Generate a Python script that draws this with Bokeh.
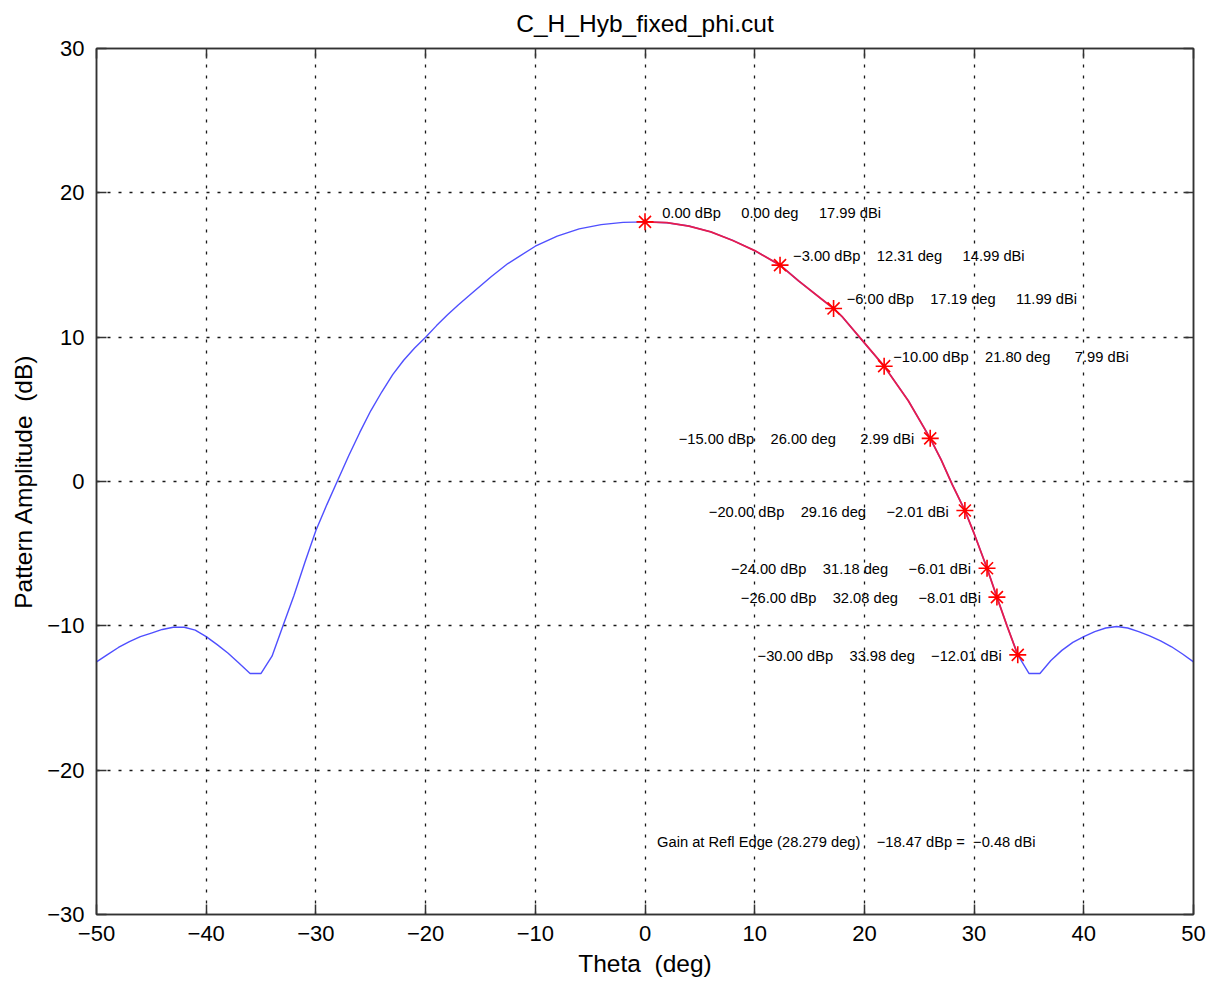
import numpy as np
from bokeh.plotting import figure
from bokeh.models import (ColumnDataSource, LinearAxis, SingleIntervalTicker,
                          CustomJSTickFormatter, Range1d)
from bokeh.core.properties import value
from bokeh.embed import file_html
from bokeh.resources import INLINE

# ---------------- data ----------------
title_text = "C_H_Hyb_fixed_phi.cut"
x_label = "Theta \u00a0(deg)"
y_label = "Pattern Amplitude \u00a0(dB)"

theta = [-50, -49, -48, -47, -46, -45, -44, -43, -42, -41, -40, -39, -38, -37,
         -36, -35, -34, -33, -32, -31, -30, -29, -28, -27, -26, -25, -24, -23,
         -22, -21, -20, -19, -18, -17, -16, -14, -12.5, -10, -8, -6, -4, -2,
         0, 2, 4, 6, 8, 10, 12.31, 14, 16, 17.19, 18, 20, 21.80, 24, 26.00, 27,
         28, 29.16, 30, 31.18, 32.08, 33, 33.98, 35, 36, 37, 38, 39, 40, 41, 42,
         43, 44, 45, 46, 47, 48, 49, 50]
gain = [-12.5, -12.0, -11.5, -11.1, -10.75, -10.5, -10.25, -10.1, -10.1, -10.3,
        -10.75, -11.3, -11.9, -12.6, -13.3, -13.3, -12.1, -10.0, -7.9, -5.6,
        -3.4, -1.6, 0.1, 1.8, 3.4, 4.9, 6.2, 7.4, 8.4, 9.25, 10.0, 10.8, 11.55,
        12.25, 12.9, 14.2, 15.1, 16.3, 17.0, 17.5, 17.8, 17.95,
        17.99, 17.93, 17.7, 17.3, 16.7, 16.0, 14.99, 13.9, 12.7, 11.99, 11.4, 9.6,
        7.99, 5.6, 2.99, 1.5, -0.2, -2.01, -3.6, -6.01, -8.01, -10.0, -12.01,
        -13.3, -13.3, -12.4, -11.7, -11.15, -10.75, -10.4, -10.15, -10.05,
        -10.15, -10.4, -10.7, -11.05, -11.45, -11.95, -12.5]

mk_dbp = [0.00, -3.00, -6.00, -10.00, -15.00, -20.00, -24.00, -26.00, -30.00]
mk_theta = [0.00, 12.31, 17.19, 21.80, 26.00, 29.16, 31.18, 32.08, 33.98]
mk_dbi = [17.99, 14.99, 11.99, 7.99, 2.99, -2.01, -6.01, -8.01, -12.01]

edge_theta = 28.279
edge_dbp = -18.47
edge_dbi = -0.48

x_ticks = [-50, -40, -30, -20, -10, 0, 10, 20, 30, 40, 50]
y_ticks = [-30, -20, -10, 0, 10, 20, 30]

# ---------------- helpers ----------------
NB = "\u00a0"


def fmt(v, w=6):
    return f"{v:{w}.2f}".replace("-", "\u2212").replace(" ", NB)


def mk_label(dbp, th, dbi):
    return (fmt(dbp) + NB + "dBp" + NB * 3 + fmt(th) + NB + "deg" + NB * 4
            + fmt(dbi) + NB + "dBi")


FONT = "Liberation Sans"

p = figure(width=1207, height=979, output_backend="svg", toolbar_location=None,
           x_range=Range1d(x_ticks[0], x_ticks[-1]),
           y_range=Range1d(y_ticks[0], y_ticks[-1]),
           min_border_left=96, min_border_right=14, min_border_top=48,
           min_border_bottom=65, background_fill_color="white",
           border_fill_color="white")

p.title.text = title_text
p.title.align = "center"
p.title.text_font = FONT
p.title.text_font_size = "24.5px"
p.title.text_font_style = "normal"
p.title.text_color = "#000000"
p.title.standoff = 15

tick_fmt = CustomJSTickFormatter(code="""
    return (tick < 0 ? "\\u2212" : "") + Math.abs(tick).toString();
""")
blank_fmt = CustomJSTickFormatter(code="return '';")

for ax in (p.xaxis[0], p.yaxis[0]):
    ax.ticker = SingleIntervalTicker(interval=10)
    ax.formatter = tick_fmt
    ax.major_tick_in = 10
    ax.major_tick_out = 0
    ax.minor_tick_line_color = None
    ax.axis_line_color = "#333333"
    ax.axis_line_width = 1.5
    ax.major_tick_line_color = "#333333"
    ax.major_tick_line_width = 1.5
    ax.major_label_text_font = FONT
    ax.major_label_text_font_size = "22px"
    ax.major_label_text_color = "#000000"
    ax.axis_label_text_font = FONT
    ax.axis_label_text_font_size = "24.5px"
    ax.axis_label_text_font_style = "normal"
    ax.axis_label_text_color = "#000000"

p.xaxis[0].axis_label = x_label
p.yaxis[0].axis_label = y_label
p.xaxis[0].major_label_standoff = 7
p.xaxis[0].axis_label_standoff = 6
p.yaxis[0].major_label_standoff = 8
p.yaxis[0].axis_label_standoff = 7

for loc in ("right", "above"):
    ax = LinearAxis(ticker=SingleIntervalTicker(interval=10),
                    formatter=blank_fmt,
                    major_tick_in=10, major_tick_out=0,
                    minor_tick_line_color=None,
                    axis_line_color="#333333", axis_line_width=1.5,
                    major_tick_line_color="#333333", major_tick_line_width=1.5,
                    major_label_text_font_size="10px", major_label_standoff=0)
    p.add_layout(ax, loc)

p.outline_line_color = "#333333"
p.outline_line_width = 1.5

for g in (p.xgrid[0], p.ygrid[0]):
    g.ticker = SingleIntervalTicker(interval=10)
    g.grid_line_color = "#000000"
    g.grid_line_dash = "3 8"
    g.grid_line_width = 1.3
    g.grid_line_alpha = 0.9

# ---------------- curve ----------------
th_arr = np.array(theta, dtype=float)
g_arr = np.array(gain, dtype=float)
p.line(th_arr, g_arr, line_color="#3030ff", line_width=1.4, line_alpha=0.85)

mask = (th_arr >= mk_theta[0]) & (th_arr <= mk_theta[-1])
p.line(th_arr[mask], g_arr[mask], line_color="#e81c4c", line_width=1.8)

p.scatter(mk_theta, mk_dbi, marker="asterisk", size=17, line_color="#ff0000",
          line_width=1.6)

# ---------------- marker labels ----------------
labels = [mk_label(a, b, c) for a, b, c in zip(mk_dbp, mk_theta, mk_dbi)]
upper = [i for i, v in enumerate(mk_dbp) if v >= -10]
lower = [i for i, v in enumerate(mk_dbp) if v < -10]

src_up = ColumnDataSource(dict(x=[mk_theta[i] for i in upper],
                               y=[mk_dbi[i] for i in upper],
                               t=[labels[i] for i in upper]))
src_lo = ColumnDataSource(dict(x=[mk_theta[i] for i in lower],
                               y=[mk_dbi[i] for i in lower],
                               t=[labels[i] for i in lower]))

p.text(x="x", y="y", text="t", source=src_up, text_font=value(FONT),
       text_font_size="14.7px", text_align="left", text_baseline="middle",
       x_offset=9, y_offset=-9, text_color="#000000")
p.text(x="x", y="y", text="t", source=src_lo, text_font=value(FONT),
       text_font_size="14.7px", text_align="right", text_baseline="middle",
       x_offset=-16, y_offset=1, text_color="#000000")

edge_text = ("Gain at Refl Edge (" + f"{edge_theta:.3f}" + NB + "deg)" + NB * 4
             + fmt(edge_dbp) + NB + "dBp" + NB + "=" + NB + fmt(edge_dbi)
             + NB + "dBi")
p.text(x=[1.1], y=[-25.0], text=[edge_text], text_font=value(FONT),
       text_font_size="14.7px", text_align="left", text_baseline="middle",
       text_color="#000000")

with open("out.html", "w") as f:
    f.write(file_html(p, INLINE))
